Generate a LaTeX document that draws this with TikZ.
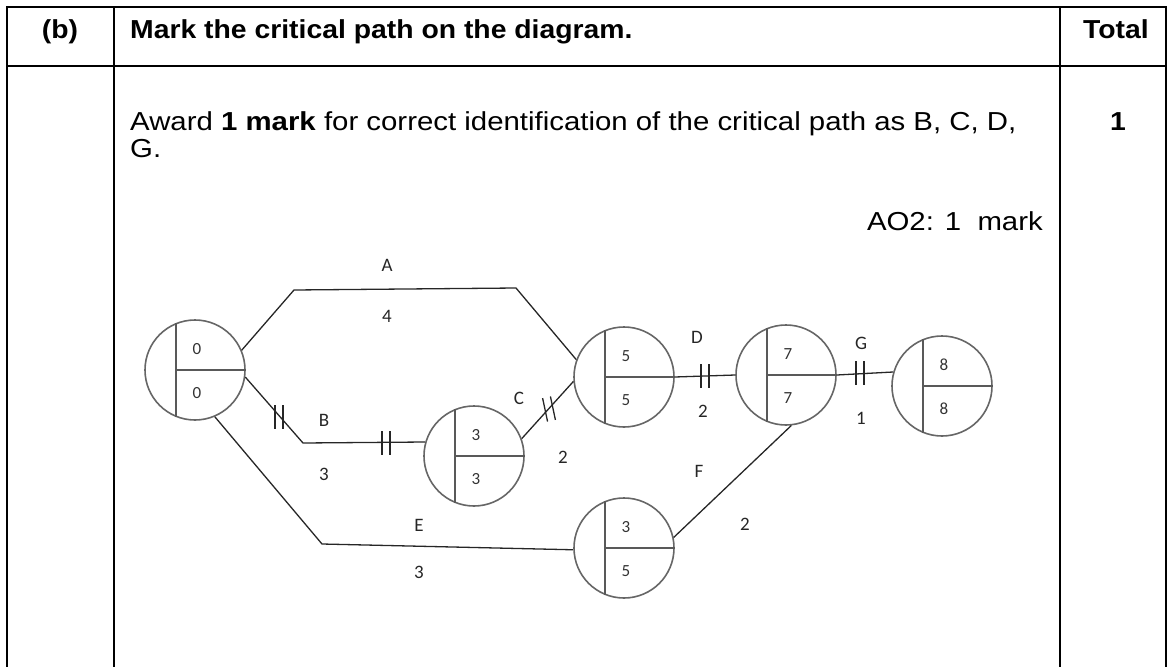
\documentclass[tikz,border=0pt]{standalone}
\usepackage{fontspec}
\setmainfont{Liberation Sans}[FakeStretch=1.09]
\newfontfamily\bodyfont{Liberation Sans}[FakeStretch=1.13]
\newfontfamily\netfont{Carlito}
\begin{document}
\begin{tikzpicture}[x=1pt, y=-1pt, font=\fontsize{26}{30}\selectfont,
    rule/.style={line width=2pt},
    txt/.style={inner sep=0pt},
    body/.style={txt, font=\bodyfont\fontsize{26}{30}\selectfont},
    event/.style={circle, draw=black!60, line width=1.6pt, minimum size=100pt, inner sep=0pt},
    split/.style={draw=black!65, line width=1.6pt},
    act/.style={draw=black!85, line width=1.3pt},
    lbl/.style={font=\netfont\fontsize{19}{21}\selectfont, black!85},
    num/.style={font=\netfont\fontsize{17}{19}\selectfont, black!80},
    bars/.pic={\draw[act] (-4,-12) -- (-4,12) (4,-12) -- (4,12);}]
  \useasboundingbox (0,0) rectangle (1168,667);
  % === Tabulka ===
  \draw[rule] (7,667) -- (7,7) -- (1166,7) -- (1166,667);
  \draw[rule] (7,66) -- (1166,66);
  \draw[rule] (114,7) -- (114,667);
  \draw[rule] (1060,7) -- (1060,667);
  \node[txt, anchor=base] (part) at (60,38) {\bfseries (b)};
  \node[txt, anchor=base west] (task) at (130,38) {\bfseries Mark the critical path on the diagram.};
  \node[txt, anchor=base] (total) at (1116,38) {\bfseries Total};
  \node[body, anchor=base west] (award) at (130,130)
    {Award \textbf{1 mark} for correct identification of the critical path as B, C, D,};
  \node[body, anchor=base west] (award2) at (130,157) {G.};
  \node[body, anchor=base east] (ao) at (1043,230) {AO2: 1\ \ mark};
  \node[txt, anchor=base] (one) at (1118,130) {\bfseries 1};
  % === Udalosti ===
  \foreach \n/\x/\y/\t/\b in {n0/195/370/0/0, n3/474/456/3/3, n5/624/377/5/5,
                              n7/786/375/7/7, n8/942/386/8/8, n35/624/548/3/5} {
    \node[event] (\n) at (\x,\y) {};
    \draw[split] (\n.112) -- (\n.248) (\n.112 |- \n.center) -- (\n.east);
    \node[num] (\n t) at ([shift={(2,-21)}]\n.center) {\t};
    \node[num] (\n b) at ([shift={(2,23)}]\n.center) {\b};
  }
  % === Cinnosti ===
  \draw[act] (n0.23) -- (294,290) -- (516,288) -- (n5.160);
  \draw[act] (n0.-8) -- (303,443) -- (n3.164);
  \draw[act] (n0.-67) -- (322,544) -- (n35.182);
  \draw[act] (n3.20) -- (n5.185);
  \draw[act] (n5.0) -- (n7.180);
  \draw[act] (n7.0) -- (n8.164);
  \draw[act] (n35.12) -- (n7.-84);
  % === Kriticka cesta ===
  \pic at (279,417) {bars};
  \pic at (386,443) {bars};
  \pic[rotate=12] at (549,409) {bars};
  \pic at (705,376) {bars};
  \pic at (860,373) {bars};
  % === Popisky ===
  \node[lbl] (la) at (387,265) {A};
  \node[lbl] (da) at (387,316) {4};
  \node[lbl] (lb) at (324,420) {B};
  \node[lbl] (db) at (324,474) {3};
  \node[lbl] (lc) at (519,398) {C};
  \node[lbl] (dc) at (563,457) {2};
  \node[lbl] (ld) at (697,337) {D};
  \node[lbl] (dd) at (703,411) {2};
  \node[lbl] (lg) at (861,343) {G};
  \node[lbl] (dg) at (861,418) {1};
  \node[lbl] (lf) at (699,471) {F};
  \node[lbl] (df) at (745,524) {2};
  \node[lbl] (le) at (419,525) {E};
  \node[lbl] (de) at (419,572) {3};
\end{tikzpicture}
\end{document}
